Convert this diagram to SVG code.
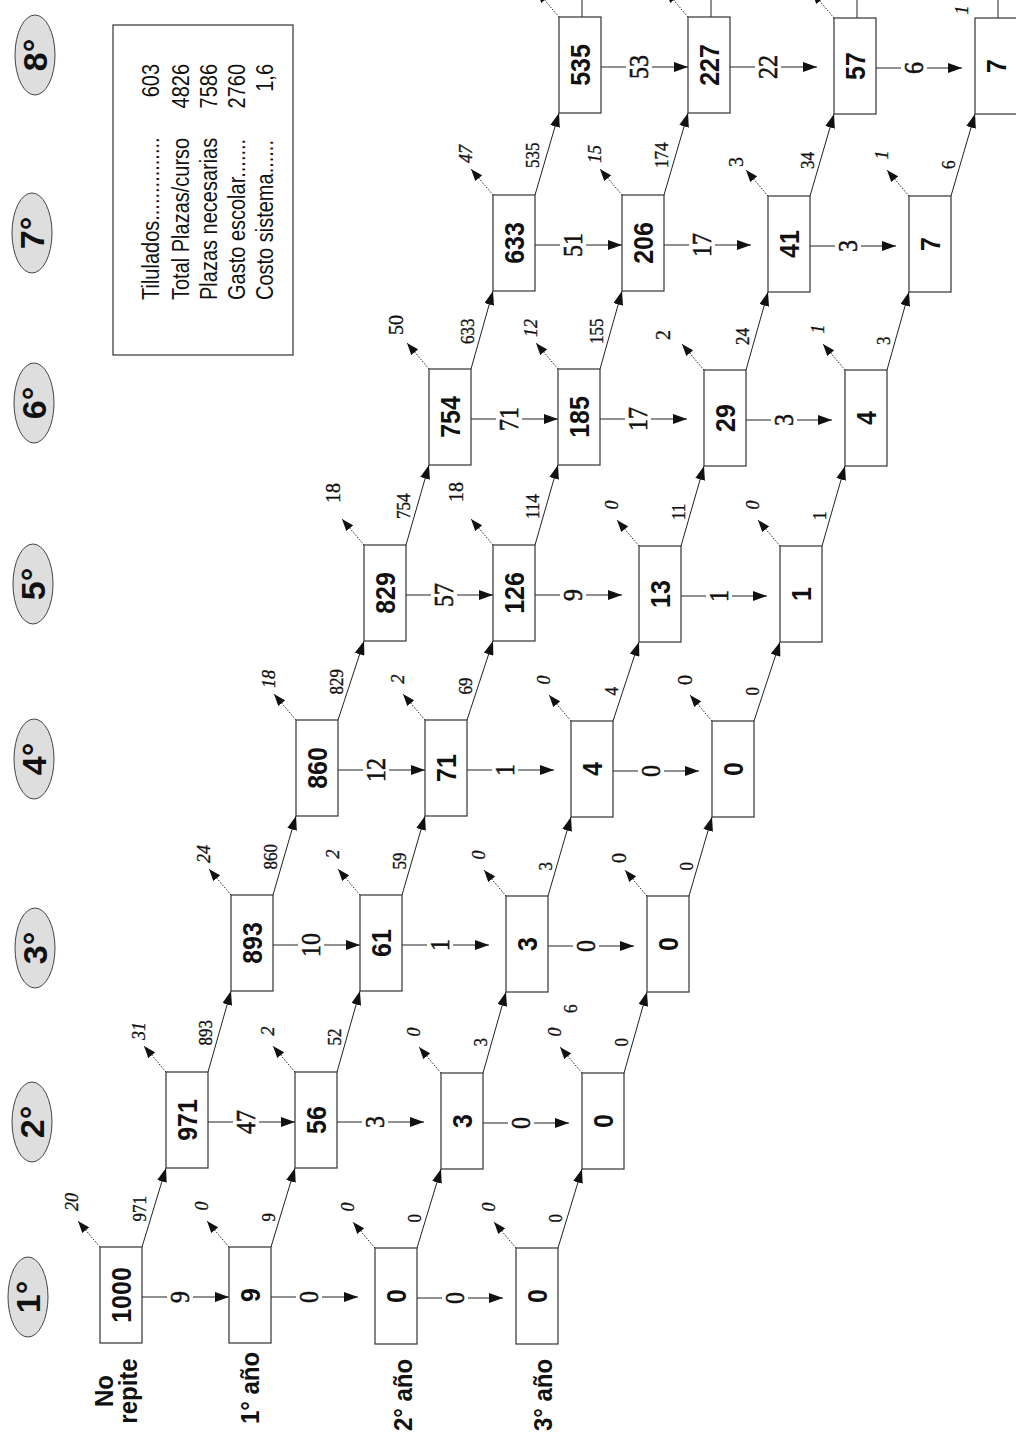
<svg xmlns="http://www.w3.org/2000/svg" width="1016" height="1439" viewBox="0 0 1016 1439">
<style>
.bx{fill:#fff;stroke:#333;stroke-width:1.2}
.ln{fill:none;stroke:#222;stroke-width:1}
.dt{fill:none;stroke:#222;stroke-width:1;stroke-dasharray:1.5 1.5}
.bl{font-family:"Liberation Sans",Arial,sans-serif;font-weight:bold;font-size:25px;text-anchor:middle;fill:#111}
.hl{font-family:"Liberation Serif","Times New Roman",serif;font-size:24px;text-anchor:middle;fill:#111;stroke:#111;stroke-width:0.5}
.dl{font-family:"Liberation Serif","Times New Roman",serif;font-size:17px;text-anchor:start;fill:#111;stroke:#111;stroke-width:0.3}
.ol{font-family:"Liberation Serif","Times New Roman",serif;font-size:18px;font-style:italic;text-anchor:middle;fill:#111;stroke:#111;stroke-width:0.3}
.ou{font-family:"Liberation Serif","Times New Roman",serif;font-size:20px;text-anchor:middle;fill:#111;stroke:#111;stroke-width:0.3}
.el{fill:#dedede;stroke:#444;stroke-width:1}
.et{font-family:"Liberation Sans",Arial,sans-serif;font-weight:bold;font-size:34px;text-anchor:middle;fill:#111}
.rl{font-family:"Liberation Sans",Arial,sans-serif;font-weight:bold;font-size:24px;text-anchor:middle;fill:#111}
.lg{font-family:"Liberation Sans",Arial,sans-serif;font-size:20px;fill:#111}
.lgr{text-anchor:end}
</style>
<defs>
<marker id="ah" viewBox="0 0 14 10" refX="14" refY="5" markerWidth="14" markerHeight="10" markerUnits="userSpaceOnUse" orient="auto"><path d="M0,0L14,5L0,10z" fill="#111"/></marker>
<marker id="ad" viewBox="0 0 12 9" refX="12" refY="4.5" markerWidth="12" markerHeight="9" markerUnits="userSpaceOnUse" orient="auto"><path d="M0,0L12,4.5L0,9z" fill="#111"/></marker>
</defs>
<rect width="1016" height="1439" fill="#fff"/>

<g id="courses">
<g id="course-1"><ellipse class="el" cx="28" cy="1297" rx="20" ry="40"/><text class="et" transform="translate(40,1297) rotate(-90)">1°</text></g>
<g id="course-2"><ellipse class="el" cx="32" cy="1122" rx="20" ry="40"/><text class="et" transform="translate(44,1122) rotate(-90)">2°</text></g>
<g id="course-3"><ellipse class="el" cx="35" cy="948" rx="20" ry="40"/><text class="et" transform="translate(47,948) rotate(-90)">3°</text></g>
<g id="course-4"><ellipse class="el" cx="34" cy="759" rx="20" ry="40"/><text class="et" transform="translate(46,759) rotate(-90)">4°</text></g>
<g id="course-5"><ellipse class="el" cx="33" cy="584" rx="20" ry="40"/><text class="et" transform="translate(45,584) rotate(-90)">5°</text></g>
<g id="course-6"><ellipse class="el" cx="34" cy="403" rx="20" ry="40"/><text class="et" transform="translate(46,403) rotate(-90)">6°</text></g>
<g id="course-7"><ellipse class="el" cx="32" cy="233" rx="20" ry="40"/><text class="et" transform="translate(44,233) rotate(-90)">7°</text></g>
<g id="course-8"><ellipse class="el" cx="35" cy="55" rx="20" ry="40"/><text class="et" transform="translate(47,55) rotate(-90)">8°</text></g>
</g>

<g id="row-labels">
<text class="rl" transform="translate(113,1391) rotate(-90) scale(1,1.05)">No</text>
<text class="rl" transform="translate(137,1391) rotate(-90) scale(1,1.05)">repite</text>
<text class="rl" transform="translate(259,1388) rotate(-90) scale(1,1.05)">1° año</text>
<text class="rl" transform="translate(412,1395) rotate(-90) scale(1,1.05)">2° año</text>
<text class="rl" transform="translate(552,1395) rotate(-90) scale(1,1.05)">3° año</text>
</g>

<g id="legend">
<rect x="113" y="25" width="180" height="330" fill="#fff" stroke="#333" stroke-width="1.2"/>
<text class="lg" transform="translate(159,300) rotate(-90) scale(1,1.22)">Tilulados...............</text>
<text class="lg lgr" transform="translate(159,64) rotate(-90) scale(1,1.22)">603</text>
<text class="lg" transform="translate(189,300) rotate(-90) scale(1,1.22)">Total Plazas/curso</text>
<text class="lg lgr" transform="translate(189,64) rotate(-90) scale(1,1.22)">4826</text>
<text class="lg" transform="translate(217,300) rotate(-90) scale(1,1.22)">Plazas necesarias</text>
<text class="lg lgr" transform="translate(217,64) rotate(-90) scale(1,1.22)">7586</text>
<text class="lg" transform="translate(245,300) rotate(-90) scale(1,1.22)">Gasto escolar.......</text>
<text class="lg lgr" transform="translate(245,64) rotate(-90) scale(1,1.22)">2760</text>
<text class="lg" transform="translate(273,300) rotate(-90) scale(1,1.22)">Costo sistema......</text>
<text class="lg lgr" transform="translate(273,64) rotate(-90) scale(1,1.22)">1,6</text>
</g>

<g id="connectors">
<g id="rep-arrows">
<path class="ln" d="M142,1297H167"/><path class="ln" d="M193,1297H229" marker-end="url(#ah)"/>
<path class="ln" d="M271,1297H296"/><path class="ln" d="M322,1297H358" marker-end="url(#ah)"/>
<path class="ln" d="M417,1298H442"/><path class="ln" d="M468,1298H503" marker-end="url(#ah)"/>
<path class="ln" d="M208,1122H233"/><path class="ln" d="M259,1122H295" marker-end="url(#ah)"/>
<path class="ln" d="M337,1122H362"/><path class="ln" d="M388,1122H424" marker-end="url(#ah)"/>
<path class="ln" d="M483,1123H508"/><path class="ln" d="M534,1123H569" marker-end="url(#ah)"/>
<path class="ln" d="M273,945H298"/><path class="ln" d="M324,945H360" marker-end="url(#ah)"/>
<path class="ln" d="M402,945H427"/><path class="ln" d="M453,945H489" marker-end="url(#ah)"/>
<path class="ln" d="M548,946H573"/><path class="ln" d="M599,946H634" marker-end="url(#ah)"/>
<path class="ln" d="M338,770H363"/><path class="ln" d="M389,770H425" marker-end="url(#ah)"/>
<path class="ln" d="M467,770H492"/><path class="ln" d="M518,770H554" marker-end="url(#ah)"/>
<path class="ln" d="M613,771H638"/><path class="ln" d="M664,771H699" marker-end="url(#ah)"/>
<path class="ln" d="M406,595H431"/><path class="ln" d="M457,595H493" marker-end="url(#ah)"/>
<path class="ln" d="M535,595H560"/><path class="ln" d="M586,595H622" marker-end="url(#ah)"/>
<path class="ln" d="M681,596H706"/><path class="ln" d="M732,596H767" marker-end="url(#ah)"/>
<path class="ln" d="M471,419H496"/><path class="ln" d="M522,419H558" marker-end="url(#ah)"/>
<path class="ln" d="M600,419H625"/><path class="ln" d="M651,419H687" marker-end="url(#ah)"/>
<path class="ln" d="M746,420H771"/><path class="ln" d="M797,420H832" marker-end="url(#ah)"/>
<path class="ln" d="M535,245H560"/><path class="ln" d="M586,245H622" marker-end="url(#ah)"/>
<path class="ln" d="M664,245H689"/><path class="ln" d="M715,245H751" marker-end="url(#ah)"/>
<path class="ln" d="M810,246H835"/><path class="ln" d="M861,246H896" marker-end="url(#ah)"/>
<path class="ln" d="M601,67H626"/><path class="ln" d="M652,67H688" marker-end="url(#ah)"/>
<path class="ln" d="M730,67H755"/><path class="ln" d="M781,67H817" marker-end="url(#ah)"/>
<path class="ln" d="M876,68H901"/><path class="ln" d="M927,68H962" marker-end="url(#ah)"/>
</g>
<g id="rep-labels">
<text class="hl" transform="translate(189,1297) rotate(-90) scale(1,1.12)">9</text>
<text class="hl" transform="translate(318,1297) rotate(-90) scale(1,1.12)">0</text>
<text class="hl" transform="translate(464,1298) rotate(-90) scale(1,1.12)">0</text>
<text class="hl" transform="translate(255,1122) rotate(-90) scale(1,1.12)">47</text>
<text class="hl" transform="translate(384,1122) rotate(-90) scale(1,1.12)">3</text>
<text class="hl" transform="translate(530,1123) rotate(-90) scale(1,1.12)">0</text>
<text class="hl" transform="translate(320,945) rotate(-90) scale(1,1.12)">10</text>
<text class="hl" transform="translate(449,945) rotate(-90) scale(1,1.12)">1</text>
<text class="hl" transform="translate(595,946) rotate(-90) scale(1,1.12)">0</text>
<text class="hl" transform="translate(385,770) rotate(-90) scale(1,1.12)">12</text>
<text class="hl" transform="translate(514,770) rotate(-90) scale(1,1.12)">1</text>
<text class="hl" transform="translate(660,771) rotate(-90) scale(1,1.12)">0</text>
<text class="hl" transform="translate(453,595) rotate(-90) scale(1,1.12)">57</text>
<text class="hl" transform="translate(582,595) rotate(-90) scale(1,1.12)">9</text>
<text class="hl" transform="translate(728,596) rotate(-90) scale(1,1.12)">1</text>
<text class="hl" transform="translate(518,419) rotate(-90) scale(1,1.12)">71</text>
<text class="hl" transform="translate(647,419) rotate(-90) scale(1,1.12)">17</text>
<text class="hl" transform="translate(793,420) rotate(-90) scale(1,1.12)">3</text>
<text class="hl" transform="translate(582,245) rotate(-90) scale(1,1.12)">51</text>
<text class="hl" transform="translate(711,245) rotate(-90) scale(1,1.12)">17</text>
<text class="hl" transform="translate(857,246) rotate(-90) scale(1,1.12)">3</text>
<text class="hl" transform="translate(648,67) rotate(-90) scale(1,1.12)">53</text>
<text class="hl" transform="translate(777,67) rotate(-90) scale(1,1.12)">22</text>
<text class="hl" transform="translate(923,68) rotate(-90) scale(1,1.12)">6</text>
</g>

<g id="promo-arrows">
<path class="ln" d="M142,1247L166,1168" marker-end="url(#ah)"/>
<path class="ln" d="M208,1072L231,991" marker-end="url(#ah)"/>
<path class="ln" d="M273,895L296,816" marker-end="url(#ah)"/>
<path class="ln" d="M338,720L364,641" marker-end="url(#ah)"/>
<path class="ln" d="M406,545L429,465" marker-end="url(#ah)"/>
<path class="ln" d="M471,369L493,291" marker-end="url(#ah)"/>
<path class="ln" d="M535,195L559,113" marker-end="url(#ah)"/>
<path class="ln" d="M271,1247L295,1168" marker-end="url(#ah)"/>
<path class="ln" d="M337,1072L360,991" marker-end="url(#ah)"/>
<path class="ln" d="M402,895L425,816" marker-end="url(#ah)"/>
<path class="ln" d="M467,720L493,641" marker-end="url(#ah)"/>
<path class="ln" d="M535,545L558,465" marker-end="url(#ah)"/>
<path class="ln" d="M600,369L622,291" marker-end="url(#ah)"/>
<path class="ln" d="M664,195L688,113" marker-end="url(#ah)"/>
<path class="ln" d="M417,1248L441,1169" marker-end="url(#ah)"/>
<path class="ln" d="M483,1073L506,992" marker-end="url(#ah)"/>
<path class="ln" d="M548,896L571,817" marker-end="url(#ah)"/>
<path class="ln" d="M613,721L639,642" marker-end="url(#ah)"/>
<path class="ln" d="M681,546L704,466" marker-end="url(#ah)"/>
<path class="ln" d="M746,370L768,292" marker-end="url(#ah)"/>
<path class="ln" d="M810,196L834,114" marker-end="url(#ah)"/>
<path class="ln" d="M558,1248L582,1169" marker-end="url(#ah)"/>
<path class="ln" d="M624,1073L647,992" marker-end="url(#ah)"/>
<path class="ln" d="M689,896L712,817" marker-end="url(#ah)"/>
<path class="ln" d="M754,721L780,642" marker-end="url(#ah)"/>
<path class="ln" d="M822,546L845,466" marker-end="url(#ah)"/>
<path class="ln" d="M887,370L909,292" marker-end="url(#ah)"/>
<path class="ln" d="M951,196L975,114" marker-end="url(#ah)"/>
<path class="ln" d="M582,17V0"/>
<path class="ln" d="M711,17V0"/>
<path class="ln" d="M857,18V0"/>
<path class="ln" d="M998,18V0"/>
</g>
<g id="promo-labels">
<text class="dl" transform="translate(146,1221.5) rotate(-90) scale(1,1.1)">971</text>
<text class="dl" transform="translate(211.5,1045.5) rotate(-90) scale(1,1.1)">893</text>
<text class="dl" transform="translate(276.5,869.5) rotate(-90) scale(1,1.1)">860</text>
<text class="dl" transform="translate(343,694.5) rotate(-90) scale(1,1.1)">829</text>
<text class="dl" transform="translate(409.5,519) rotate(-90) scale(1,1.1)">754</text>
<text class="dl" transform="translate(474,344) rotate(-90) scale(1,1.1)">633</text>
<text class="dl" transform="translate(539,168) rotate(-90) scale(1,1.1)">535</text>
<text class="dl" transform="translate(275,1221.5) rotate(-90) scale(1,1.1)">9</text>
<text class="dl" transform="translate(340.5,1045.5) rotate(-90) scale(1,1.1)">52</text>
<text class="dl" transform="translate(405.5,869.5) rotate(-90) scale(1,1.1)">59</text>
<text class="dl" transform="translate(472,694.5) rotate(-90) scale(1,1.1)">69</text>
<text class="dl" transform="translate(538.5,519) rotate(-90) scale(1,1.1)">114</text>
<text class="dl" transform="translate(603,344) rotate(-90) scale(1,1.1)">155</text>
<text class="dl" transform="translate(668,168) rotate(-90) scale(1,1.1)">174</text>
<text class="dl" transform="translate(421,1222.5) rotate(-90) scale(1,1.1)">0</text>
<text class="dl" transform="translate(486.5,1046.5) rotate(-90) scale(1,1.1)">3</text>
<text class="dl" transform="translate(551.5,870.5) rotate(-90) scale(1,1.1)">3</text>
<text class="dl" transform="translate(618,695.5) rotate(-90) scale(1,1.1)">4</text>
<text class="dl" transform="translate(684.5,520) rotate(-90) scale(1,1.1)">11</text>
<text class="dl" transform="translate(749,345) rotate(-90) scale(1,1.1)">24</text>
<text class="dl" transform="translate(814,169) rotate(-90) scale(1,1.1)">34</text>
<text class="dl" transform="translate(562,1222.5) rotate(-90) scale(1,1.1)">0</text>
<text class="dl" transform="translate(627.5,1046.5) rotate(-90) scale(1,1.1)">0</text>
<text class="dl" transform="translate(692.5,870.5) rotate(-90) scale(1,1.1)">0</text>
<text class="dl" transform="translate(759,695.5) rotate(-90) scale(1,1.1)">0</text>
<text class="dl" transform="translate(825.5,520) rotate(-90) scale(1,1.1)">1</text>
<text class="dl" transform="translate(890,345) rotate(-90) scale(1,1.1)">3</text>
<text class="dl" transform="translate(955,169) rotate(-90) scale(1,1.1)">6</text>
<text class="dl" transform="translate(577,1013) rotate(-90) scale(1,1.1)">6</text>
</g>

<g id="drop-arrows">
<path class="dt" d="M100,1247L78,1221" marker-end="url(#ad)"/>
<path class="dt" d="M166,1072L144,1046" marker-end="url(#ad)"/>
<path class="dt" d="M231,895L209,869" marker-end="url(#ad)"/>
<path class="dt" d="M296,720L274,694" marker-end="url(#ad)"/>
<path class="dt" d="M364,545L342,519" marker-end="url(#ad)"/>
<path class="dt" d="M429,369L407,343" marker-end="url(#ad)"/>
<path class="dt" d="M493,195L471,169" marker-end="url(#ad)"/>
<path class="dt" d="M559,17L537,-9" marker-end="url(#ad)"/>
<path class="dt" d="M229,1247L207,1221" marker-end="url(#ad)"/>
<path class="dt" d="M295,1072L273,1046" marker-end="url(#ad)"/>
<path class="dt" d="M360,895L338,869" marker-end="url(#ad)"/>
<path class="dt" d="M425,720L403,694" marker-end="url(#ad)"/>
<path class="dt" d="M493,545L471,519" marker-end="url(#ad)"/>
<path class="dt" d="M558,369L536,343" marker-end="url(#ad)"/>
<path class="dt" d="M622,195L600,169" marker-end="url(#ad)"/>
<path class="dt" d="M688,17L666,-9" marker-end="url(#ad)"/>
<path class="dt" d="M375,1248L353,1222" marker-end="url(#ad)"/>
<path class="dt" d="M441,1073L419,1047" marker-end="url(#ad)"/>
<path class="dt" d="M506,896L484,870" marker-end="url(#ad)"/>
<path class="dt" d="M571,721L549,695" marker-end="url(#ad)"/>
<path class="dt" d="M639,546L617,520" marker-end="url(#ad)"/>
<path class="dt" d="M704,370L682,344" marker-end="url(#ad)"/>
<path class="dt" d="M768,196L746,170" marker-end="url(#ad)"/>
<path class="dt" d="M834,18L812,-8" marker-end="url(#ad)"/>
<path class="dt" d="M516,1248L494,1222" marker-end="url(#ad)"/>
<path class="dt" d="M582,1073L560,1047" marker-end="url(#ad)"/>
<path class="dt" d="M647,896L625,870" marker-end="url(#ad)"/>
<path class="dt" d="M712,721L690,695" marker-end="url(#ad)"/>
<path class="dt" d="M780,546L758,520" marker-end="url(#ad)"/>
<path class="dt" d="M845,370L823,344" marker-end="url(#ad)"/>
<path class="dt" d="M909,196L887,170" marker-end="url(#ad)"/>
</g>
<g id="drop-labels">
<text class="ol" transform="translate(78,1202) rotate(-90)">20</text>
<text class="ol" transform="translate(145,1031) rotate(-90)">31</text>
<text class="ol" transform="translate(210,854) rotate(-90)">24</text>
<text class="ol" transform="translate(275,679) rotate(-90)">18</text>
<text class="ou" transform="translate(340,493) rotate(-90)">18</text>
<text class="ou" transform="translate(403,325) rotate(-90)">50</text>
<text class="ol" transform="translate(472,154) rotate(-90)">47</text>
<text class="ol" transform="translate(208,1206) rotate(-90)">0</text>
<text class="ol" transform="translate(274,1031) rotate(-90)">2</text>
<text class="ol" transform="translate(339,854) rotate(-90)">2</text>
<text class="ol" transform="translate(404,679) rotate(-90)">2</text>
<text class="ou" transform="translate(463,492) rotate(-90)">18</text>
<text class="ol" transform="translate(537,328) rotate(-90)">12</text>
<text class="ol" transform="translate(601,154) rotate(-90)">15</text>
<text class="ol" transform="translate(354,1207) rotate(-90)">0</text>
<text class="ol" transform="translate(420,1032) rotate(-90)">0</text>
<text class="ol" transform="translate(485,855) rotate(-90)">0</text>
<text class="ol" transform="translate(550,680) rotate(-90)">0</text>
<text class="ol" transform="translate(618,505) rotate(-90)">0</text>
<text class="ou" transform="translate(670,335) rotate(-90)">2</text>
<text class="ou" transform="translate(743,162) rotate(-90)">3</text>
<text class="ol" transform="translate(495,1207) rotate(-90)">0</text>
<text class="ol" transform="translate(561,1032) rotate(-90)">0</text>
<text class="ou" transform="translate(626,858) rotate(-90)">0</text>
<text class="ou" transform="translate(692,680) rotate(-90)">0</text>
<text class="ol" transform="translate(759,505) rotate(-90)">0</text>
<text class="ol" transform="translate(824,329) rotate(-90)">1</text>
<text class="ol" transform="translate(888,155) rotate(-90)">1</text>
<text class="ol" transform="translate(968,10) rotate(-90)">1</text>
</g>
</g>

<g id="nodes">
<g id="n-r0c0"><rect class="bx" x="100" y="1247" width="42" height="96"/><text class="bl" transform="translate(131,1295) rotate(-90) scale(1,1.12)">1000</text></g>
<g id="n-r0c1"><rect class="bx" x="166" y="1072" width="42" height="96"/><text class="bl" transform="translate(197,1120) rotate(-90) scale(1,1.12)">971</text></g>
<g id="n-r0c2"><rect class="bx" x="231" y="895" width="42" height="96"/><text class="bl" transform="translate(262,943) rotate(-90) scale(1,1.12)">893</text></g>
<g id="n-r0c3"><rect class="bx" x="296" y="720" width="42" height="96"/><text class="bl" transform="translate(327,768) rotate(-90) scale(1,1.12)">860</text></g>
<g id="n-r0c4"><rect class="bx" x="364" y="545" width="42" height="96"/><text class="bl" transform="translate(395,593) rotate(-90) scale(1,1.12)">829</text></g>
<g id="n-r0c5"><rect class="bx" x="429" y="369" width="42" height="96"/><text class="bl" transform="translate(460,417) rotate(-90) scale(1,1.12)">754</text></g>
<g id="n-r0c6"><rect class="bx" x="493" y="195" width="42" height="96"/><text class="bl" transform="translate(524,243) rotate(-90) scale(1,1.12)">633</text></g>
<g id="n-r0c7"><rect class="bx" x="559" y="17" width="42" height="96"/><text class="bl" transform="translate(590,65) rotate(-90) scale(1,1.12)">535</text></g>
<g id="n-r1c0"><rect class="bx" x="229" y="1247" width="42" height="96"/><text class="bl" transform="translate(260,1295) rotate(-90) scale(1,1.12)">9</text></g>
<g id="n-r1c1"><rect class="bx" x="295" y="1072" width="42" height="96"/><text class="bl" transform="translate(326,1120) rotate(-90) scale(1,1.12)">56</text></g>
<g id="n-r1c2"><rect class="bx" x="360" y="895" width="42" height="96"/><text class="bl" transform="translate(391,943) rotate(-90) scale(1,1.12)">61</text></g>
<g id="n-r1c3"><rect class="bx" x="425" y="720" width="42" height="96"/><text class="bl" transform="translate(456,768) rotate(-90) scale(1,1.12)">71</text></g>
<g id="n-r1c4"><rect class="bx" x="493" y="545" width="42" height="96"/><text class="bl" transform="translate(524,593) rotate(-90) scale(1,1.12)">126</text></g>
<g id="n-r1c5"><rect class="bx" x="558" y="369" width="42" height="96"/><text class="bl" transform="translate(589,417) rotate(-90) scale(1,1.12)">185</text></g>
<g id="n-r1c6"><rect class="bx" x="622" y="195" width="42" height="96"/><text class="bl" transform="translate(653,243) rotate(-90) scale(1,1.12)">206</text></g>
<g id="n-r1c7"><rect class="bx" x="688" y="17" width="42" height="96"/><text class="bl" transform="translate(719,65) rotate(-90) scale(1,1.12)">227</text></g>
<g id="n-r2c0"><rect class="bx" x="375" y="1248" width="42" height="96"/><text class="bl" transform="translate(406,1296) rotate(-90) scale(1,1.12)">0</text></g>
<g id="n-r2c1"><rect class="bx" x="441" y="1073" width="42" height="96"/><text class="bl" transform="translate(472,1121) rotate(-90) scale(1,1.12)">3</text></g>
<g id="n-r2c2"><rect class="bx" x="506" y="896" width="42" height="96"/><text class="bl" transform="translate(537,944) rotate(-90) scale(1,1.12)">3</text></g>
<g id="n-r2c3"><rect class="bx" x="571" y="721" width="42" height="96"/><text class="bl" transform="translate(602,769) rotate(-90) scale(1,1.12)">4</text></g>
<g id="n-r2c4"><rect class="bx" x="639" y="546" width="42" height="96"/><text class="bl" transform="translate(670,594) rotate(-90) scale(1,1.12)">13</text></g>
<g id="n-r2c5"><rect class="bx" x="704" y="370" width="42" height="96"/><text class="bl" transform="translate(735,418) rotate(-90) scale(1,1.12)">29</text></g>
<g id="n-r2c6"><rect class="bx" x="768" y="196" width="42" height="96"/><text class="bl" transform="translate(799,244) rotate(-90) scale(1,1.12)">41</text></g>
<g id="n-r2c7"><rect class="bx" x="834" y="18" width="42" height="96"/><text class="bl" transform="translate(865,66) rotate(-90) scale(1,1.12)">57</text></g>
<g id="n-r3c0"><rect class="bx" x="516" y="1248" width="42" height="96"/><text class="bl" transform="translate(547,1296) rotate(-90) scale(1,1.12)">0</text></g>
<g id="n-r3c1"><rect class="bx" x="582" y="1073" width="42" height="96"/><text class="bl" transform="translate(613,1121) rotate(-90) scale(1,1.12)">0</text></g>
<g id="n-r3c2"><rect class="bx" x="647" y="896" width="42" height="96"/><text class="bl" transform="translate(678,944) rotate(-90) scale(1,1.12)">0</text></g>
<g id="n-r3c3"><rect class="bx" x="712" y="721" width="42" height="96"/><text class="bl" transform="translate(743,769) rotate(-90) scale(1,1.12)">0</text></g>
<g id="n-r3c4"><rect class="bx" x="780" y="546" width="42" height="96"/><text class="bl" transform="translate(811,594) rotate(-90) scale(1,1.12)">1</text></g>
<g id="n-r3c5"><rect class="bx" x="845" y="370" width="42" height="96"/><text class="bl" transform="translate(876,418) rotate(-90) scale(1,1.12)">4</text></g>
<g id="n-r3c6"><rect class="bx" x="909" y="196" width="42" height="96"/><text class="bl" transform="translate(940,244) rotate(-90) scale(1,1.12)">7</text></g>
<g id="n-r3c7"><rect class="bx" x="975" y="18" width="42" height="96"/><text class="bl" transform="translate(1006,66) rotate(-90) scale(1,1.12)">7</text></g>
</g>
</svg>
